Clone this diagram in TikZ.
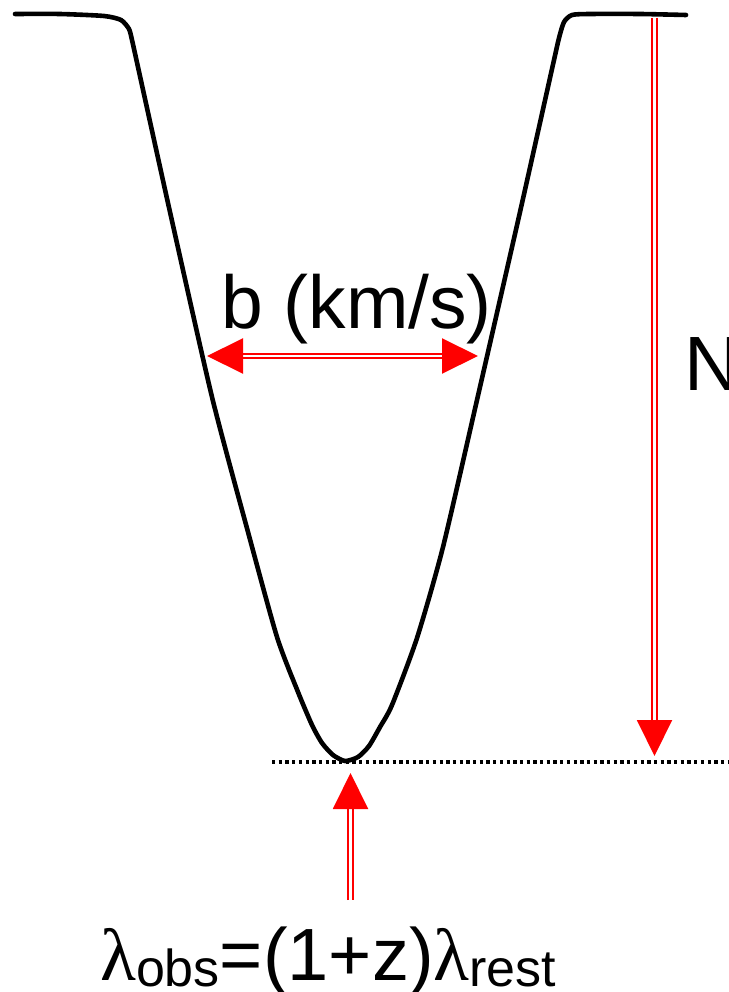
\documentclass[tikz,border=0pt]{standalone}
\usepackage{fontspec}
\setmainfont{Liberation Sans}
\newfontfamily\lamfont{Liberation Serif}
\usetikzlibrary{arrows.meta}
\begin{document}
\begin{tikzpicture}[x=1pt,y=-1pt,
  profile/.style={line width=4.6pt, line join=round, line cap=round},
  redline/.style={draw=red, line width=2pt, double=white, double distance=2.5pt},
  tipend/.style={-{Triangle[length=36pt,width=35pt]}},
  tipboth/.style={{Triangle[length=36pt,width=35pt]}-{Triangle[length=36pt,width=35pt]}},
  baseline/.style={line width=3.2pt, dash pattern=on 3.3pt off 3.4pt},
  lbl/.style={inner sep=0pt, anchor=base west, text=black}
]
\useasboundingbox (0,0) rectangle (728,992);

% absorption profile
\draw[profile] plot[smooth, tension=0.4] coordinates {
  (15,14) (60,14) (104,16) (121,20) (129,29) (132,40) (136,58)
  (170,212) (212,397) (248,532) (277,637) (298,692)
  (312,725) (322,743) (333,755) (345,761) (358,757) (369,746) (380,727)
  (392,705) (417,638) (443,547) (477,400) (520,212)
  (554,60) (559,38) (564,22) (572,15) (590,14)
  (640,14) (686,15)};

% continuum zero level (dotted)
\coordinate (dotL) at (272,762);
\coordinate (dotR) at (728,762);
\draw[baseline] (dotL) -- (dotR);

% width b
\coordinate (bL) at (207,356);
\coordinate (bR) at (478,356);
\draw[redline, tipboth] (bL) -- (bR);
\node[lbl, font=\fontsize{75}{82}\selectfont] (blabel) at (221,328) {b (km/s)};

% depth N
\coordinate (nTop) at (654.5,18);
\coordinate (nTip) at (654.5,756);
\draw[redline, tipend] (nTop) -- (nTip);
\node[lbl, font=\fontsize{77}{84}\selectfont] (nlabel) at (684,390) {N};

% line centre
\coordinate (cBase) at (350.5,900);
\coordinate (cTip) at (350.5,773);
\draw[redline, tipend] (cBase) -- (cTip);
\node[lbl, font=\fontsize{74}{80}\selectfont] (formula) at (100,980)
  {{\lamfont λ}\raisebox{-6pt}{\fontsize{52}{56}\selectfont obs}=(1+z){\lamfont λ}\raisebox{-6pt}{\fontsize{52}{56}\selectfont rest}};
\end{tikzpicture}
\end{document}
